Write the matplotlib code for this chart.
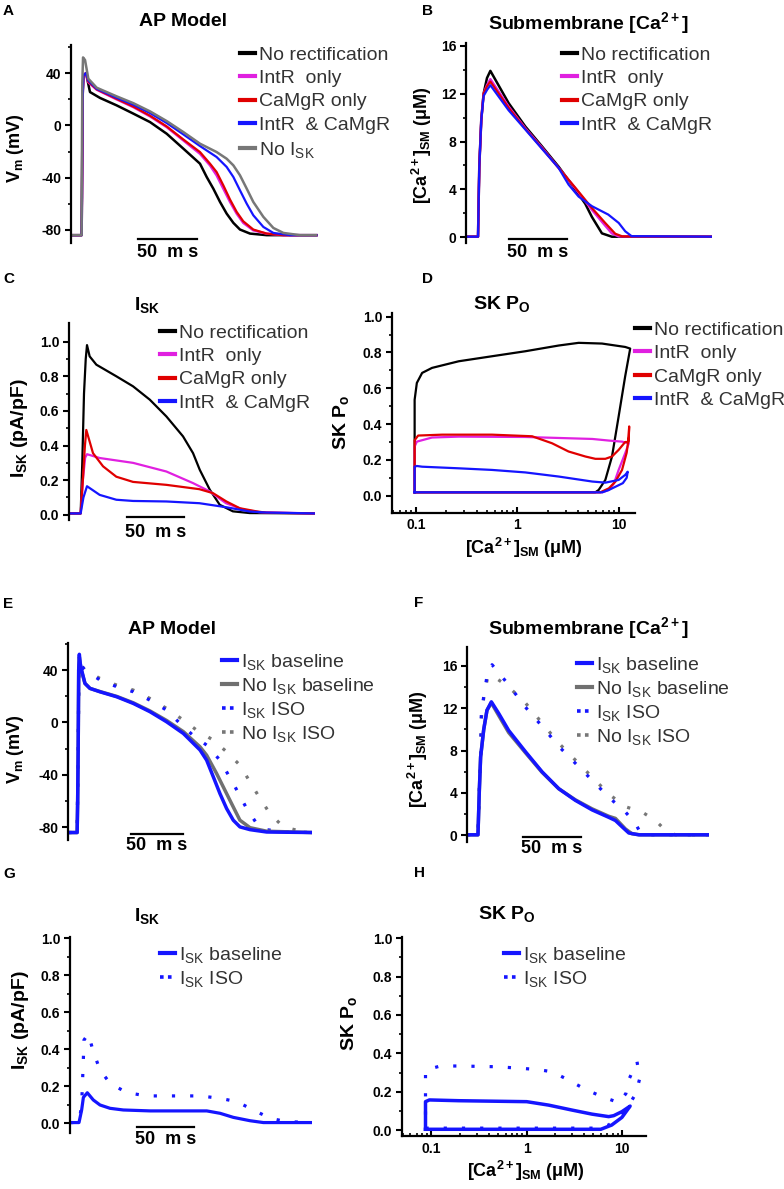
import numpy as np
import matplotlib.pyplot as plt
from matplotlib.lines import Line2D
from matplotlib.ticker import NullFormatter

plt.rcParams['font.family'] = ['Liberation Sans', 'DejaVu Sans']
plt.rcParams['mathtext.fontset'] = 'custom'
plt.rcParams['mathtext.rm'] = 'Liberation Sans'
plt.rcParams['mathtext.it'] = 'Liberation Sans:italic'
plt.rcParams['mathtext.bf'] = 'Liberation Sans:bold'

# boje
BLACK = '#000000'
MAGENTA = '#e020e0'
RED = '#e00000'
BLUE = '#1515ff'
GRAY = '#777777'
TXT = '#333333'

# ---------------- A: AP model (t ms, Vm mV) ----------------
A_black_t = [0, 9, 9.3, 9.8, 10.5, 12.7, 16.1, 24.6, 38.7, 52.8, 67, 81.1, 95.2, 109.3, 115, 120.6, 126.3, 131.9, 137.6, 143.2, 151.7, 165.8, 208]
A_black_v = [-84, -84, -55, 20, 38, 40, 25.5, 21, 15.3, 9, 2.5, -6.4, -17.8, -29.3, -39.5, -48.4, -58.6, -67.5, -74.6, -79.7, -82.8, -84, -84]
A_mag_t = [0, 9, 9.3, 9.8, 10.5, 12.7, 14.7, 21.8, 38.7, 52.8, 67, 81.1, 95.2, 109.3, 117.8, 123.4, 129.1, 134.8, 140.4, 146, 154.5, 165.8, 180, 208]
A_mag_v = [-84, -84, -55, 20, 38, 40, 33, 27.3, 19.9, 14, 6.9, -1.3, -11.5, -21.7, -30.6, -38.2, -48.4, -58.6, -67.5, -74.6, -80.3, -82.8, -84, -84]
A_red_t = [0, 9, 9.3, 9.8, 10.5, 12.7, 14.7, 21.8, 38.7, 52.8, 67, 81.1, 95.2, 109.3, 117.8, 123.4, 129.1, 134.8, 140.4, 146, 154.5, 165.8, 180, 208]
A_red_v = [-84, -84, -55, 20, 38, 40, 33.5, 27.6, 20.3, 14.4, 7.4, -0.8, -10.8, -20.4, -29.3, -35.7, -45.9, -56.8, -66.2, -73.4, -79.7, -82.8, -84, -84]
A_blue_t = [0, 9, 9.3, 9.8, 10.5, 12.7, 14.7, 21.8, 38.7, 52.8, 67, 81.1, 95.2, 109.3, 123.4, 131.9, 137.6, 143.2, 148.9, 154.5, 163, 171.5, 185.6, 208]
A_blue_v = [-84, -84, -55, 20, 38, 40, 34.4, 28, 21.1, 15.8, 9.4, 1.8, -6.9, -15.8, -24.2, -31.8, -39.5, -49.7, -59.9, -68.8, -77.7, -82.3, -84, -84]
A_gray_t = [0, 9, 9.05, 9.6, 10.2, 11.9, 14.7, 21.8, 38.7, 52.8, 67, 81.1, 95.2, 109.3, 123.4, 131.9, 137.6, 143.2, 148.9, 154.5, 163, 171.5, 180, 194, 207.6]
A_gray_v = [-84, -84, -55, 33, 52, 50, 35.7, 28.8, 22.2, 17, 10.7, 3.3, -5.1, -14, -20.4, -25.5, -30.6, -38.2, -48.4, -58.6, -70, -78.5, -82.3, -84, -84]

# ---------------- B: submembrane Ca (t ms, uM) ----------------
B_black_t = [0, 10.3, 11.4, 13.1, 15.1, 18, 20.9, 36.6, 50.9, 65.1, 79.4, 93.7, 102.3, 108, 116.6, 125.1, 211]
B_black_c = [0.05, 0.05, 5.9, 9.8, 12.0, 13.3, 13.9, 11.2, 9.25, 7.6, 5.9, 4.0, 2.8, 1.7, 0.33, 0.05, 0.05]
B_mag_t = [0, 10.3, 11.4, 13.1, 15.1, 18, 20.9, 36.6, 50.9, 65.1, 79.4, 93.7, 108, 116.6, 125.1, 130.9, 211]
B_mag_c = [0.05, 0.05, 5.9, 9.8, 12.0, 12.7, 13.2, 10.9, 9.1, 7.5, 5.8, 4.1, 2.3, 1.3, 0.33, 0.08, 0.05]
B_red_t = [0, 10.3, 11.4, 13.1, 15.1, 18, 20.9, 36.6, 50.9, 65.1, 79.4, 93.7, 108, 119.4, 128, 134, 211]
B_red_c = [0.05, 0.05, 5.9, 9.8, 12.0, 12.6, 13.0, 10.8, 9.05, 7.45, 5.8, 4.15, 2.45, 1.2, 0.3, 0.08, 0.05]
B_blue_t = [0, 10.3, 11.4, 13.1, 15.1, 18, 20.9, 36.6, 50.9, 65.1, 79.4, 88, 96.6, 108, 122, 131, 136.6, 142, 211]
B_blue_c = [0.05, 0.05, 5.9, 9.8, 11.8, 12.3, 12.7, 10.6, 9.0, 7.4, 5.8, 4.4, 3.4, 2.6, 1.9, 1.2, 0.5, 0.1, 0.05]

# ---------------- C: I_SK (t ms, pA/pF) ----------------
C_black_t = [0, 10.1, 11.5, 13, 14.5, 15.6, 17.9, 23.7, 41, 55.5, 70, 84.4, 98.8, 107.5, 113.3, 122, 130.6, 142, 156.6, 213]
C_black_i = [0.008, 0.008, 0.3, 0.7, 0.9, 0.98, 0.915, 0.867, 0.80, 0.742, 0.665, 0.568, 0.453, 0.356, 0.26, 0.145, 0.058, 0.02, 0.01, 0.008]
C_mag_t = [0, 10.1, 12, 14, 15.6, 26.6, 55.5, 84.4, 107.5, 122, 136, 150.9, 165, 213]
C_mag_i = [0.008, 0.008, 0.2, 0.33, 0.35, 0.328, 0.30, 0.25, 0.183, 0.135, 0.067, 0.03, 0.015, 0.008]
C_red_t = [0, 10.1, 12, 13.8, 15, 20.8, 29.5, 41, 55.5, 84.4, 113, 124.8, 136.4, 148, 162.4, 171, 213]
C_red_i = [0.008, 0.008, 0.2, 0.4, 0.49, 0.356, 0.28, 0.22, 0.19, 0.173, 0.148, 0.125, 0.077, 0.038, 0.02, 0.012, 0.008]
C_blue_t = [0, 10.1, 12.5, 15.6, 26.6, 41, 55.5, 84.4, 113, 136, 156.6, 171, 213]
C_blue_i = [0.008, 0.008, 0.1, 0.165, 0.115, 0.087, 0.08, 0.077, 0.067, 0.044, 0.019, 0.013, 0.008]

# ---------------- D: SK Po vs Ca (loops) ----------------
D_black_ca = [0.097, 5.89, 6.35, 7.39, 8.6, 10.0, 11.6, 13.0, 11.6, 6.85, 4.03, 2.56, 1.2, 0.562, 0.264, 0.144, 0.115, 0.102, 0.097, 0.097]
D_black_po = [0.019, 0.019, 0.032, 0.088, 0.219, 0.443, 0.667, 0.822, 0.831, 0.85, 0.854, 0.839, 0.807, 0.779, 0.751, 0.714, 0.686, 0.63, 0.536, 0.019]
D_mag_ca = [0.097, 6.9, 8.0, 9.0, 10.0, 11.6, 12.6, 10.8, 8.0, 5.5, 1.2, 0.264, 0.144, 0.102, 0.097, 0.097]
D_mag_po = [0.019, 0.019, 0.032, 0.069, 0.144, 0.237, 0.293, 0.302, 0.308, 0.317, 0.328, 0.33, 0.325, 0.302, 0.275, 0.019]
D_red_ca = [0.097, 6.6, 8.0, 9.3, 10.8, 12.0, 12.6, 12.7, 12.5, 11.6, 10.0, 8.6, 7.39, 5.89, 4.69, 3.2, 2.2, 1.4, 0.562, 0.181, 0.105, 0.097, 0.097]
D_red_po = [0.019, 0.019, 0.041, 0.079, 0.144, 0.24, 0.33, 0.387, 0.30, 0.30, 0.256, 0.219, 0.206, 0.206, 0.219, 0.247, 0.293, 0.332, 0.341, 0.341, 0.336, 0.31, 0.019]
D_blue_ca = [0.097, 6.9, 8.0, 9.3, 11.0, 12.0, 12.3, 11.6, 10.0, 7.4, 5.5, 2.56, 1.2, 0.562, 0.264, 0.115, 0.102, 0.097, 0.097]
D_blue_po = [0.019, 0.019, 0.032, 0.05, 0.07, 0.1, 0.134, 0.116, 0.088, 0.073, 0.079, 0.107, 0.13, 0.144, 0.153, 0.162, 0.166, 0.162, 0.019]

# ---------------- E: AP model, baseline vs ISO ----------------
E_base_t = [0, 8.5, 9.0, 9.5, 10.0, 10.6, 11.5, 12.8, 16, 20.8, 30.4, 46.5, 62.5, 78.5, 94.5, 110.6, 126.6, 133, 139.4, 145.8, 152.2, 158.6, 165, 174.7, 190.7, 234]
E_base_v = [-84, -84, -60, -20, 40, 52, 45, 40, 29.8, 26, 23.4, 19.6, 14.5, 8.2, 0.5, -8.4, -21, -28.8, -41.5, -54.3, -65.7, -74.6, -79.7, -81.8, -83.6, -84]
E_nosk_t = [0, 8.5, 9.0, 9.5, 10.0, 10.6, 11.5, 12.8, 16, 20.8, 30.4, 46.5, 62.5, 78.5, 94.5, 110.6, 126.6, 133, 142.6, 152.2, 158.6, 165, 174.7, 190.7, 234]
E_nosk_v = [-84, -84, -60, -20, 40, 50, 44, 39, 29.8, 26, 23.6, 19.9, 15, 8.8, 1.5, -7, -18.6, -25, -39, -54.3, -64.5, -74.6, -80.3, -83, -84]
E_iso_t = [0, 8.5, 9.5, 10.2, 11, 16, 30.4, 46.5, 62.5, 78.5, 94.5, 110.6, 120.2, 133, 145.8, 158.6, 171.5, 181, 190.7, 206.7, 234]
E_iso_v = [-84, -84, -20, 40, 45, 40, 32.4, 27.3, 23.4, 17, 9.4, -3.3, -10, -17.3, -28.8, -46.6, -65.7, -77, -81.8, -83.5, -84]
E_nosk_iso_t = [0, 8.5, 9.5, 10.2, 11, 16, 30.4, 46.5, 62.5, 78.5, 94.5, 110.6, 123.4, 139.4, 152.2, 165, 174.7, 184.3, 193.9, 206.7, 222.7, 234]
E_nosk_iso_v = [-84, -84, -20, 40, 45, 40, 33.6, 28.5, 24.7, 18.3, 10.7, 1.8, -5.9, -13.5, -22.4, -32.6, -45.4, -58, -69.6, -79.7, -82.8, -84]

# ---------------- F: submembrane Ca, baseline vs ISO ----------------
F_base_t = [0, 9.5, 10.7, 11.8, 14.5, 17.3, 21.1, 27.5, 36.1, 50.6, 65, 79.5, 93.9, 108.4, 122.8, 128.6, 134.4, 140.2, 148.8, 209.5]
F_base_c = [0.05, 0.05, 4.3, 7.4, 10, 11.8, 12.6, 11.5, 9.9, 7.9, 6.0, 4.4, 3.3, 2.4, 1.7, 1.4, 0.8, 0.22, 0.05, 0.05]
F_nosk_t = [0, 9.5, 10.7, 11.8, 14.5, 17.3, 21.1, 27.5, 36.1, 50.6, 65, 79.5, 93.9, 108.4, 122.8, 128.6, 137.3, 143, 150, 209.5]
F_nosk_c = [0.05, 0.05, 4.3, 7.4, 10, 11.8, 12.5, 11.3, 9.7, 7.8, 5.95, 4.4, 3.35, 2.5, 1.8, 1.6, 0.6, 0.15, 0.05, 0.05]
F_iso_t = [0, 9.5, 10.7, 11.8, 12.4, 14.5, 17.3, 21.7, 36.1, 50.6, 65, 79.5, 93.9, 108.4, 122.8, 137.3, 146, 150, 153, 209.5]
F_iso_c = [0.05, 0.05, 4.3, 7.5, 11.4, 13.1, 15, 16.1, 14.2, 12.1, 10.3, 8.4, 6.8, 5.2, 3.6, 2.2, 1.1, 0.3, 0.05, 0.05]
F_nosk_iso_t = [0, 9.5, 10.7, 11.8, 12.4, 14.5, 18, 21.7, 36.1, 50.6, 65, 79.5, 93.9, 108.4, 122.8, 137.3, 151.7, 163.3, 172, 180.6, 209.5]
F_nosk_iso_c = [0.05, 0.05, 4.3, 7.5, 11, 13, 15, 15.1, 14, 12.5, 10.6, 8.7, 7.1, 5.5, 3.9, 2.7, 2.2, 1.4, 0.47, 0.05, 0.05]

# ---------------- G: I_SK baseline vs ISO ----------------
G_base_t = [0, 7.8, 10.1, 11.6, 15, 20.2, 26, 34.7, 46.2, 69.4, 118.5, 130.1, 141.6, 156, 167.6, 210]
G_base_i = [0.004, 0.004, 0.072, 0.14, 0.165, 0.126, 0.099, 0.081, 0.072, 0.067, 0.067, 0.054, 0.032, 0.014, 0.004, 0.004]
G_iso_t = [0, 7.8, 10.1, 11, 11.6, 12.1, 15.9, 20.2, 26, 34.7, 49.1, 66.5, 112.7, 130.1, 144.5, 159, 173.4, 187.9, 210]
G_iso_i = [0.004, 0.004, 0.1, 0.25, 0.35, 0.45, 0.483, 0.387, 0.288, 0.216, 0.166, 0.148, 0.148, 0.135, 0.117, 0.072, 0.027, 0.009, 0.004]

# ---------------- H: SK Po vs Ca, baseline vs ISO ----------------
H_base_ca = [0.0865, 6.0, 7.8, 10.0, 12.2, 10.0, 8.2, 7.26, 4.85, 3.0, 1.7, 1.0, 0.194, 0.095, 0.0865, 0.0865]
H_base_po = [0.004, 0.004, 0.026, 0.066, 0.125, 0.096, 0.075, 0.07, 0.083, 0.104, 0.13, 0.148, 0.153, 0.157, 0.148, 0.004]
H_iso_ca = [0.0865, 5.0, 7.26, 11, 14, 15.4, 14.4, 12, 11, 9.25, 6.2, 4.13, 2.77, 1.85, 1.28, 0.5, 0.194, 0.124, 0.0865, 0.0865, 0.0865]
H_iso_po = [0.01, 0.01, 0.026, 0.104, 0.19, 0.27, 0.357, 0.27, 0.19, 0.143, 0.174, 0.212, 0.26, 0.304, 0.316, 0.33, 0.334, 0.334, 0.313, 0.226, 0.01]

LEG_A = ['No rectification', 'IntR  only', 'CaMgR only', 'IntR  & CaMgR']
LEG_E = [r'I$_{\mathrm{SK}}$ baseline', r'No I$_{\mathrm{SK}}$ baseline', r'I$_{\mathrm{SK}}$ ISO', r'No I$_{\mathrm{SK}}$ ISO']

W, H = 784, 1189
fig = plt.figure(figsize=(W / 100, H / 100), dpi=100)


def rect(l, t, r, b):
    return [l / W, 1 - b / H, (r - l) / W, (b - t) / H]


def fx(x):
    return x / W


def fy(y):
    return 1 - y / H


def stil(ax, yt, ylab, ymin, bottom=False):
    for s in ['top', 'right']:
        ax.spines[s].set_visible(False)
    ax.spines['left'].set_linewidth(1.6)
    ax.set_yticks(yt, labels=ylab, fontweight='bold', fontsize=10)
    ax.set_yticks(ymin, minor=True)
    ax.tick_params(axis='y', which='major', direction='out', length=4, width=1.5, pad=3)
    ax.tick_params(axis='y', which='minor', direction='out', length=2.5, width=1.2)
    if bottom:
        ax.spines['bottom'].set_linewidth(1.6)
    else:
        ax.spines['bottom'].set_visible(False)
        ax.set_xticks([])


def logx(ax, lo, hi):
    ax.set_xscale('log')
    ax.set_xlim(lo, hi)
    ax.set_xticks([0.1, 1, 10], labels=['0.1', '1', '10'], fontweight='bold', fontsize=10)
    mn = [k * 10.0 ** e for e in range(-2, 2) for k in range(2, 10) if lo < k * 10.0 ** e < hi]
    ax.set_xticks(mn, minor=True)
    ax.xaxis.set_minor_formatter(NullFormatter())
    ax.tick_params(axis='x', which='major', direction='in', length=4, width=1.5, pad=4)
    ax.tick_params(axis='x', which='minor', direction='in', length=2.5, width=1.2)


def legenda(ax, handles, labels, x, y, fs=14, sp=0.3):
    lg = ax.legend(handles, labels, loc='upper left', bbox_to_anchor=(fx(x), fy(y)),
                   bbox_transform=fig.transFigure, frameon=False, borderpad=0,
                   borderaxespad=0, handlelength=0.75, handletextpad=0.25,
                   labelspacing=sp, fontsize=fs)
    for t in lg.get_texts():
        t.set_color(TXT)
    return lg


def skala(ax, x0, y0, ytxt, fs=13):
    ax.plot([x0, x0 + 50], [y0, y0], color='black', lw=1.6, clip_on=False)
    ax.text(x0 + 25, ytxt, '50  m s', ha='center', va='center', fontsize=fs,
            fontweight='bold', clip_on=False)


def h(c, ls='-', lw=3):
    return Line2D([], [], color=c, lw=lw, ls=ls)


DOT = (0, (1, 4.7))
yv = [-80, -40, 0, 40]
yv_m = [-60, -20, 20, 60]
y01 = [0, 0.2, 0.4, 0.6, 0.8, 1.0]
y01_l = ['0.0', '0.2', '0.4', '0.6', '0.8', '1.0']
y01_m = [0.1, 0.3, 0.5, 0.7, 0.9]

# ---- A ----
axA = fig.add_axes(rect(71, 45, 318.8, 243))
axA.plot(A_black_t, A_black_v, color=BLACK, lw=1.8)
axA.plot(A_mag_t, A_mag_v, color=MAGENTA, lw=1.8)
axA.plot(A_red_t, A_red_v, color=RED, lw=1.6)
axA.plot(A_blue_t, A_blue_v, color=BLUE, lw=1.6)
axA.plot(A_gray_t, A_gray_v, color=GRAY, lw=1.8)
axA.set_xlim(0, 210)
axA.set_ylim(-90, 61.5)
stil(axA, yv, ['-80', '-40', '0', '40'], yv_m)
skala(axA, 56.8, -86.9, -96.9)
legenda(axA, [h(BLACK), h(MAGENTA), h(RED), h(BLUE), h(GRAY)],
        LEG_A + [r'No I$_{\mathrm{SK}}$'], 240, 46)

# ---- B ----
axB = fig.add_axes(rect(466, 43.3, 712, 243.3))
axB.plot(B_black_t, B_black_c, color=BLACK, lw=1.8)
axB.plot(B_mag_t, B_mag_c, color=MAGENTA, lw=1.8)
axB.plot(B_red_t, B_red_c, color=RED, lw=1.6)
axB.plot(B_blue_t, B_blue_c, color=BLUE, lw=1.6)
axB.set_xlim(0, 211)
axB.set_ylim(-0.5, 16.2)
stil(axB, [0, 4, 8, 12, 16], ['0', '4', '8', '12', '16'], [2, 6, 10, 14])
skala(axB, 36.6, -0.1, -1.3)
legenda(axB, [h(BLACK), h(MAGENTA), h(RED), h(BLUE)], LEG_A, 562, 46)

# ---- C ----
axC = fig.add_axes(rect(69, 323.3, 314.8, 520))
axC.plot(C_black_t, C_black_i, color=BLACK, lw=1.6)
axC.plot(C_mag_t, C_mag_i, color=MAGENTA, lw=1.6)
axC.plot(C_red_t, C_red_i, color=RED, lw=1.6)
axC.plot(C_blue_t, C_blue_i, color=BLUE, lw=1.6)
axC.set_xlim(0, 213)
axC.set_ylim(-0.03, 1.106)
stil(axC, y01, y01_l, y01_m)
skala(axC, 50, -0.011, -0.105)
legenda(axC, [h(BLACK), h(MAGENTA), h(RED), h(BLUE)], LEG_A, 160, 324)

# ---- D ----
axD = fig.add_axes(rect(392, 313.3, 635.3, 512.7))
axD.plot(D_black_ca, D_black_po, color=BLACK, lw=1.6)
axD.plot(D_mag_ca, D_mag_po, color=MAGENTA, lw=1.6)
axD.plot(D_red_ca, D_red_po, color=RED, lw=1.6)
axD.plot(D_blue_ca, D_blue_po, color=BLUE, lw=1.6)
logx(axD, 0.058, 14.6)
axD.set_ylim(-0.095, 1.019)
stil(axD, y01, y01_l, y01_m, bottom=True)
legenda(axD, [h(BLACK), h(MAGENTA), h(RED), h(BLUE)], LEG_A, 635, 321)

# ---- E ----
axE = fig.add_axes(rect(68.3, 643.3, 311.7, 840))
axE.plot(E_nosk_iso_t, E_nosk_iso_v, color=GRAY, lw=2.3, ls=DOT)
axE.plot(E_iso_t, E_iso_v, color=BLUE, lw=2.3, ls=DOT)
axE.plot(E_nosk_t, E_nosk_v, color='#707070', lw=2.5)
axE.plot(E_base_t, E_base_v, color=BLUE, lw=2.5)
axE.set_xlim(0, 234)
axE.set_ylim(-89.7, 60.4)
stil(axE, yv, ['-80', '-40', '0', '40'], yv_m)
skala(axE, 60, -85.1, -93.9)
hE = [h(BLUE), h('#707070'), h(BLUE, (0, (1, 1.2)), 2.6), h(GRAY, (0, (1, 1.2)), 2.6)]
legenda(axE, hE, LEG_E, 222, 652, sp=0.2)

# ---- F ----
axF = fig.add_axes(rect(467, 646.7, 708.8, 841.7))
axF.plot(F_nosk_iso_t, F_nosk_iso_c, color=GRAY, lw=2.3, ls=DOT)
axF.plot(F_iso_t, F_iso_c, color=BLUE, lw=2.3, ls=DOT)
axF.plot(F_nosk_t, F_nosk_c, color='#707070', lw=2.5)
axF.plot(F_base_t, F_base_c, color=BLUE, lw=2.5)
axF.set_xlim(0, 209.5)
axF.set_ylim(-0.6, 17.8)
stil(axF, [0, 4, 8, 12, 16], ['0', '4', '8', '12', '16'], [2, 6, 10, 14])
skala(axF, 48.5, -0.13, -1.2)
legenda(axF, hE, LEG_E, 577, 655, sp=0.2)

# ---- G ----
axG = fig.add_axes(rect(70, 937.3, 312.3, 1133.3))
axG.plot(G_iso_t, G_iso_i, color=BLUE, lw=2.3, ls=DOT)
axG.plot(G_base_t, G_base_i, color=BLUE, lw=2.3)
axG.set_xlim(0, 210)
axG.set_ylim(-0.054, 1.005)
stil(axG, y01, y01_l, y01_m)
skala(axG, 57.8, -0.018, -0.09)
hG = [h(BLUE), h(BLUE, (0, (1, 1.2)), 2.6)]
legenda(axG, hG, [LEG_E[0], LEG_E[2]], 160, 945, sp=0.2)

# ---- H ----
axH = fig.add_axes(rect(402, 937.3, 646, 1136))
axH.plot(H_iso_ca, H_iso_po, color=BLUE, lw=2.3, ls=DOT)
axH.plot(H_base_ca, H_base_po, color=BLUE, lw=2.5)
logx(axH, 0.049, 17.9)
axH.set_ylim(-0.031, 1.005)
stil(axH, y01, y01_l, y01_m, bottom=True)
legenda(axH, hG, [LEG_E[0], LEG_E[2]], 504, 945, sp=0.2)

# naslovi panela
naslovi = [
    (183, 22, 'AP Model'),
    (588, 23, r'Submembrane [Ca$^{\mathbf{2+}}$]'),
    (147, 305, r'I$_{\mathbf{SK}}$'),
    (502, 304, r'SK P$_{\mathbf{O}}$'),
    (172, 629, 'AP Model'),
    (588, 628, r'Submembrane [Ca$^{\mathbf{2+}}$]'),
    (147, 916, r'I$_{\mathbf{SK}}$'),
    (507, 914, r'SK P$_{\mathbf{O}}$'),
]
for x, y, s in naslovi:
    fig.text(fx(x), fy(y), s, ha='center', va='center', fontsize=14, fontweight='bold')

# oznake osi y
yoznake = [
    (15, 148, r'V$_{\mathbf{m}}$ (mV)', 13),
    (422, 145, r'[Ca$^{\mathbf{2+}}$]$_{\mathbf{SM}}$ (μM)', 13),
    (20, 428, r'I$_{\mathbf{SK}}$ (pA/pF)', 14),
    (341, 422, r'SK P$_{\mathbf{o}}$', 14),
    (15, 749, r'V$_{\mathbf{m}}$ (mV)', 13),
    (418, 749, r'[Ca$^{\mathbf{2+}}$]$_{\mathbf{SM}}$ (μM)', 13),
    (21, 1020, r'I$_{\mathbf{SK}}$ (pA/pF)', 14),
    (349, 1023, r'SK P$_{\mathbf{o}}$', 14),
]
for x, y, s, fs in yoznake:
    fig.text(fx(x), fy(y), s, ha='center', va='center', rotation=90, fontsize=fs, fontweight='bold')

# oznake osi x (log)
fig.text(fx(524), fy(548), r'[Ca$^{\mathbf{2+}}$]$_{\mathbf{SM}}$ (μM)', ha='center', va='center', fontsize=13, fontweight='bold')
fig.text(fx(526), fy(1171), r'[Ca$^{\mathbf{2+}}$]$_{\mathbf{SM}}$ (μM)', ha='center', va='center', fontsize=13, fontweight='bold')

# slova panela
slova = [('A', 3, 4), ('B', 422, 4), ('C', 3, 272), ('D', 422, 272),
         ('E', 3, 597), ('F', 414, 596), ('G', 3, 867), ('H', 414, 866)]
for s, x, y in slova:
    fig.text(fx(x), fy(y), s, ha='left', va='top', fontsize=11, fontweight='bold')

fig.savefig('out.png', dpi=100)
